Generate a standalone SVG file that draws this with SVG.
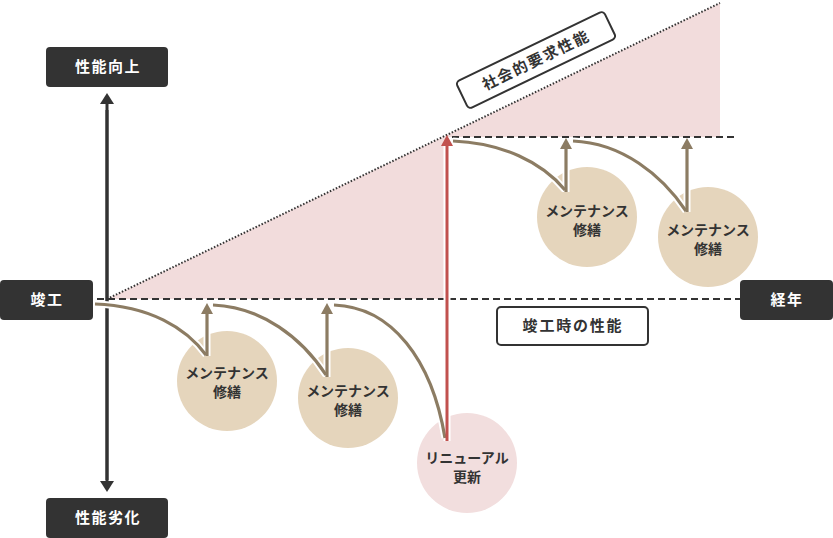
<svg xmlns="http://www.w3.org/2000/svg" width="833" height="538" viewBox="0 0 833 538">
<style>
text{font-family:"Noto Sans CJK JP","Noto Sans",sans-serif;font-weight:bold;text-anchor:middle}
.dark{fill:#333}
.wt{fill:#fff;font-size:15px;letter-spacing:1.5px}
.ct{fill:#333;font-size:14px}
.lt{fill:#333;font-size:15px;letter-spacing:1.8px}
.halo{fill:none;stroke:#fff;stroke-width:7}
.br{fill:none;stroke:#8c7c63;stroke-width:3.2}
.rd{fill:none;stroke:#c1514e;stroke-width:3}
.ax{fill:none;stroke:#333;stroke-width:3}
.dash{fill:none;stroke:#333;stroke-width:2;stroke-dasharray:7 4}
.mc{fill:#e5d5bc}
.rc{fill:#f2dede}
</style>
<defs>
<marker id="ab" markerUnits="userSpaceOnUse" markerWidth="12" markerHeight="12" viewBox="0 0 11 12" refX="0" refY="6" orient="auto"><path d="M0,0 L11,6 L0,12 z" fill="#8c7c63"/></marker>
<marker id="ar" markerUnits="userSpaceOnUse" markerWidth="12" markerHeight="12" viewBox="0 0 11 12" refX="0" refY="6" orient="auto"><path d="M0,0 L11,6 L0,12 z" fill="#c1514e"/></marker>
<marker id="ak" markerUnits="userSpaceOnUse" markerWidth="14" markerHeight="14" viewBox="0 0 11 14" refX="0" refY="7" orient="auto"><path d="M0,0 L11,7 L0,14 z" fill="#333"/></marker>
</defs>

<polygon id="required-area" points="107,299 720,3 720,137 447,137 447,299" fill="#f2dcdc"/>

<g id="connectors">
<line class="ax" x1="107" y1="480" x2="107" y2="104" marker-end="url(#ak)"/>
<line class="ax" x1="107" y1="110" x2="107" y2="481" marker-end="url(#ak)"/>
<line class="dash" x1="97" y1="299" x2="740" y2="299"/>
<line class="dash" x1="452" y1="137" x2="738" y2="137"/>
<line x1="107" y1="299" x2="720" y2="3" stroke="#333" stroke-width="2" stroke-dasharray="1.5 1.8"/>
</g>

<g id="maint1"><circle class="mc" cx="227" cy="381" r="50"/><text class="ct" x="227" y="378">メンテナンス</text><text class="ct" x="227" y="397">修繕</text></g>
<g id="maint2"><circle class="mc" cx="348" cy="398" r="50"/><text class="ct" x="348" y="396">メンテナンス</text><text class="ct" x="348" y="415">修繕</text></g>
<g id="renewal"><circle class="rc" cx="467" cy="463" r="50"/><text class="ct" x="467" y="463">リニューアル</text><text class="ct" x="467" y="482">更新</text></g>
<g id="maint3"><circle class="mc" cx="587" cy="217" r="50"/><text class="ct" x="587" y="216">メンテナンス</text><text class="ct" x="587" y="235">修繕</text></g>
<g id="maint4"><circle class="mc" cx="708" cy="237" r="50"/><text class="ct" x="708" y="235">メンテナンス</text><text class="ct" x="708" y="254">修繕</text></g>

<g id="curves">
<path class="halo" d="M95,304 C150,306 186,328 206,355"/>
<path class="halo" d="M213,305 C262,307 302,338 326,375"/>
<path class="halo" d="M334,305 C392,307 432,360 445,438"/>
<path class="halo" d="M453,141 C502,143 542,162 565,190"/>
<path class="halo" d="M573,141 C622,143 662,175 686,211"/>
<line class="halo" x1="207" y1="356" x2="207" y2="314"/>
<line class="halo" x1="327" y1="377" x2="327" y2="314"/>
<line class="halo" x1="447" y1="441" x2="447" y2="146"/>
<line class="halo" x1="566" y1="192" x2="566" y2="149"/>
<line class="halo" x1="687" y1="212" x2="687" y2="149"/>
<path class="br" d="M95,304 C150,306 186,328 206,355"/>
<path class="br" d="M213,305 C262,307 302,338 326,375"/>
<path class="br" d="M334,305 C392,307 432,360 445,438"/>
<path class="br" d="M453,141 C502,143 542,162 565,190"/>
<path class="br" d="M573,141 C622,143 662,175 686,211"/>
<line class="br" x1="207" y1="356" x2="207" y2="314" marker-end="url(#ab)"/>
<line class="br" x1="327" y1="377" x2="327" y2="314" marker-end="url(#ab)"/>
<line class="br" x1="566" y1="192" x2="566" y2="149" marker-end="url(#ab)"/>
<line class="br" x1="687" y1="212" x2="687" y2="149" marker-end="url(#ab)"/>
<line class="rd" x1="447" y1="441" x2="447" y2="146" marker-end="url(#ar)"/>
</g>

<g id="label-up"><rect class="dark" x="46" y="47" width="122" height="40" rx="4"/><text class="wt" x="108" y="72">性能向上</text></g>
<g id="label-down"><rect class="dark" x="46" y="498" width="122" height="40" rx="4"/><text class="wt" x="108" y="523">性能劣化</text></g>
<g id="label-completion"><rect class="dark" x="0" y="280" width="93" height="40" rx="4"/><text class="wt" x="47" y="305">竣工</text></g>
<g id="label-years"><rect class="dark" x="740" y="280" width="93" height="40" rx="4"/><text class="wt" x="787" y="305">経年</text></g>
<g id="label-initial"><rect x="497" y="307" width="151" height="38" rx="4" fill="#fff" stroke="#333" stroke-width="2"/><text class="lt" x="573" y="331">竣工時の性能</text></g>
<g id="label-social" transform="translate(536,60) rotate(-25.8)"><rect x="-82" y="-15" width="164" height="30" rx="4" fill="#fff" stroke="#333" stroke-width="2"/><text class="lt" x="0" y="5.5">社会的要求性能</text></g>
</svg>
